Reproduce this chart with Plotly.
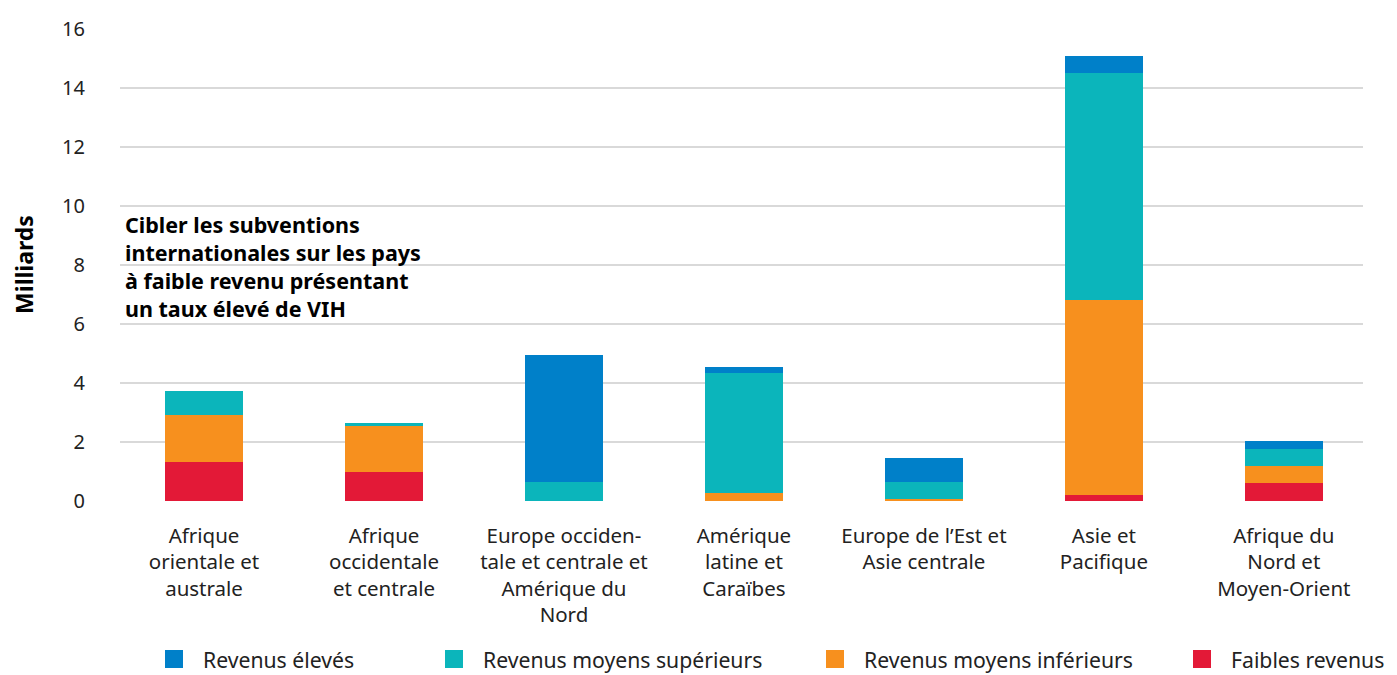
import plotly.graph_objects as go

CATEGORIES = [
    "Afrique<br>orientale et<br>australe",
    "Afrique<br>occidentale<br>et centrale",
    "Europe occiden-<br>tale et centrale et<br>Amérique du<br>Nord",
    "Amérique<br>latine et<br>Caraïbes",
    "Europe de l’Est et<br>Asie centrale",
    "Asie et<br>Pacifique",
    "Afrique du<br>Nord et<br>Moyen-Orient",
]

# milliards
faibles = [1.32, 0.98, 0.0, 0.0, 0.0, 0.19, 0.60]
moyens_inf = [1.58, 1.59, 0.0, 0.26, 0.06, 6.61, 0.58]
moyens_sup = [0.82, 0.06, 0.63, 4.07, 0.57, 7.70, 0.57]
eleves = [0.0, 0.0, 4.31, 0.20, 0.82, 0.57, 0.27]

# ordre d'empilement (du bas vers le haut)
series = [
    ("Faibles revenus", faibles, "#E31937"),
    ("Revenus moyens inférieurs", moyens_inf, "#F7901E"),
    ("Revenus moyens supérieurs", moyens_sup, "#0BB5BB"),
    ("Revenus élevés", eleves, "#0080C9"),
]

FONT = "Noto Sans"
W, H = 1397, 675
ML, MR, MT, MB = 112, 42, 20, 182  # la page ajoute 8 px autour de la figure
PW, PH = W - ML - MR, H - MT - MB

x = list(range(len(CATEGORIES)))

fig = go.Figure()
for name, vals, color in series:
    fig.add_trace(go.Bar(
        x=x, y=vals, name=name, showlegend=False,
        marker=dict(color=color, line=dict(width=0)),
        width=0.433,
    ))


def px_x(p):
    return (p - ML) / PW


def px_y(p):
    return (H - MB - p) / PH


# légende dessinée à la main (elle doit tenir sur une seule ligne)
legend_left = [157, 437, 818, 1185]
legend_cy = 651
box = 18
for (name, vals, color), left in zip(reversed(series), legend_left):
    fig.add_shape(
        type="rect", xref="paper", yref="paper",
        x0=px_x(left), x1=px_x(left + box),
        y0=px_y(legend_cy - box / 2), y1=px_y(legend_cy + box / 2),
        fillcolor=color, line=dict(width=0),
    )
    fig.add_annotation(
        x=px_x(left + 36), y=px_y(legend_cy), xref="paper", yref="paper",
        xanchor="left", yanchor="middle", text=name, showarrow=False,
        font=dict(family=FONT, size=21.2, color="#222222"),
    )

fig.add_annotation(
    x=0, xref="paper", y=0.495, yref="paper", xanchor="left", yanchor="middle",
    text="<b>Cibler les subventions<br>internationales sur les pays<br>"
         "à faible revenu présentant<br>un taux élevé de VIH</b>",
    showarrow=False, align="left",
    font=dict(family=FONT, size=21.5, color="black"),
    xshift=3,
)

fig.update_layout(
    barmode="stack",
    width=W, height=H,
    margin=dict(l=ML, r=MR, t=MT, b=MB),
    paper_bgcolor="white", plot_bgcolor="white",
    font=dict(family=FONT, size=20, color="#222222"),
    bargap=0,
    showlegend=False,
    xaxis=dict(
        range=[-0.467, 6.44], automargin=False,
        tickmode="array", tickvals=x, ticktext=CATEGORIES,
        showgrid=False, zeroline=False, showline=False,
        ticks="", ticklabelstandoff=20,
        tickfont=dict(family=FONT, size=20.5, color="#222222"),
    ),
    yaxis=dict(
        range=[0, 16.02], automargin=False,
        tickvals=[0, 2, 4, 6, 8, 10, 12, 14, 16],
        showgrid=True, gridcolor="#D9D9D9", gridwidth=2,
        zeroline=False, showline=False, ticks="",
        ticklabelstandoff=34,
        tickfont=dict(family=FONT, size=20, color="#222222"),
        title=dict(text="<b>Milliards</b>", standoff=30,
                   font=dict(family=FONT, size=23, color="black")),
    ),
)

fig.write_html("out.html")
